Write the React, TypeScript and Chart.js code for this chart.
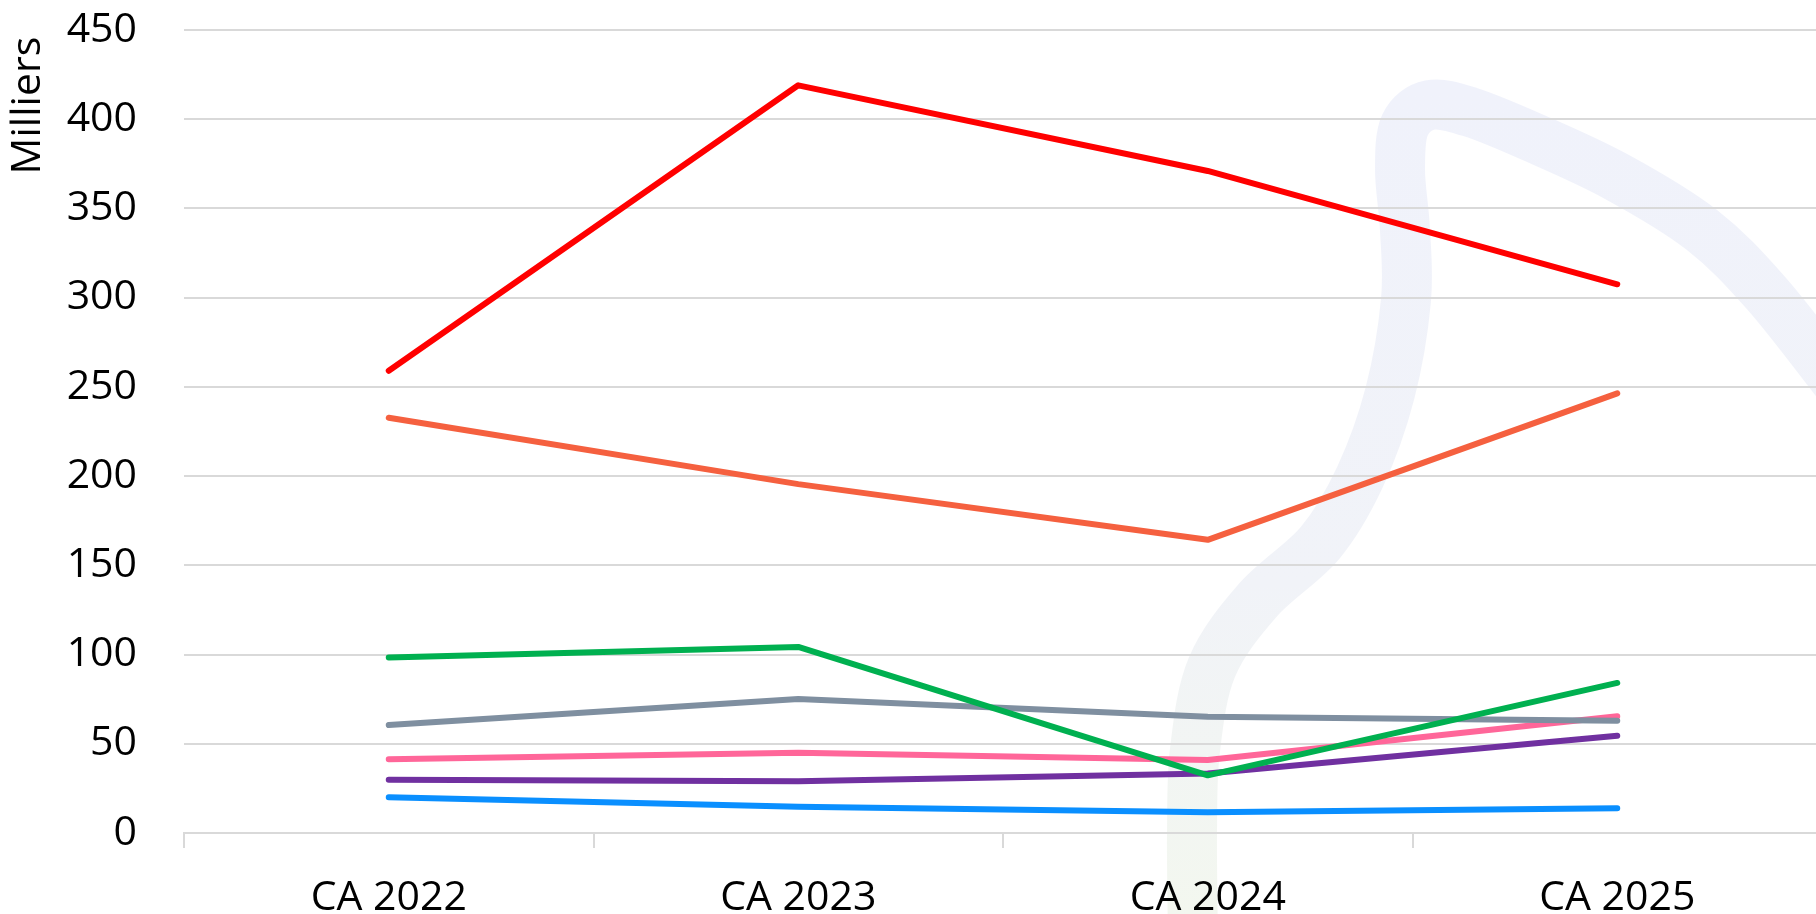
import React, { useEffect, useRef } from "react";
import { Chart, registerables } from "chart.js";

Chart.register(...registerables);

const categories = ["CA 2022", "CA 2023", "CA 2024", "CA 2025"];

const serieRouge = [259, 419, 371, 307.5];
const serieOrange = [232.7, 195.5, 164.3, 246.4];
const serieVerte = [98.4, 104.3, 32.3, 84.1];
const serieGrise = [60.5, 75.1, 65.2, 62.9];
const serieRose = [41.3, 45.0, 40.9, 65.4];
const serieViolette = [29.9, 29.0, 33.4, 54.5];
const serieBleue = [20.0, 14.7, 11.6, 13.8];

const yTicks = [0, 50, 100, 150, 200, 250, 300, 350, 400, 450];

const FONT = "'Open Sans', sans-serif";

// decorative background watermark stroke (canvas pixel coords)
const watermarkPath: [number, number][] = [
  [1193, 940], [1192, 833], [1195, 750], [1212, 667], [1258, 600], [1320, 543],
  [1360, 477], [1390, 393], [1406, 300], [1405, 230], [1400, 170], [1405, 125],
  [1430, 105], [1470, 112], [1532, 137], [1617, 177], [1702, 230], [1766, 293], [1835, 380],
];

const watermarkPlugin = {
  id: "watermark",
  beforeDraw(chart: any) {
    const ctx = chart.ctx as CanvasRenderingContext2D;
    ctx.save();
    const g = ctx.createLinearGradient(0, 90, 0, 914);
    g.addColorStop(0, "#F0F2FB");
    g.addColorStop(0.6, "#F1F3F8");
    g.addColorStop(1, "#F3F7EF");
    ctx.strokeStyle = g;
    ctx.lineWidth = 50;
    ctx.lineCap = "round";
    ctx.lineJoin = "round";
    ctx.beginPath();
    const p = watermarkPath;
    ctx.moveTo(p[0][0], p[0][1]);
    for (let i = 0; i < p.length - 1; i++) {
      const p0 = p[Math.max(0, i - 1)];
      const p1 = p[i];
      const p2 = p[i + 1];
      const p3 = p[Math.min(p.length - 1, i + 2)];
      const c1x = p1[0] + (p2[0] - p0[0]) / 6;
      const c1y = p1[1] + (p2[1] - p0[1]) / 6;
      const c2x = p2[0] - (p3[0] - p1[0]) / 6;
      const c2y = p2[1] - (p3[1] - p1[1]) / 6;
      ctx.bezierCurveTo(c1x, c1y, c2x, c2y, p2[0], p2[1]);
    }
    ctx.stroke();
    ctx.restore();
  },
};

function ds(label: string, data: number[], color: string) {
  return {
    label,
    data,
    borderColor: color,
    backgroundColor: color,
    borderWidth: 6,
    pointRadius: 0,
    pointHoverRadius: 0,
    tension: 0,
    borderCapStyle: "round" as const,
    borderJoinStyle: "round" as const,
    fill: false,
  };
}

const CANVAS_W = 1822;
const CANVAS_H = 914;

export default function App() {
  const ref = useRef<HTMLCanvasElement | null>(null);

  useEffect(() => {
    document.body.style.margin = "0";
    document.body.style.overflow = "hidden";
    const canvas = ref.current;
    if (!canvas) return;
    const chart = new Chart(canvas, {
      type: "line",
      data: {
        labels: categories,
        datasets: [
          ds("Série 1", serieRouge, "#FF0000"),
          ds("Série 2", serieOrange, "#F5603F"),
          ds("Série 3", serieVerte, "#00B050"),
          ds("Série 4", serieGrise, "#7F8FA0"),
          ds("Série 5", serieRose, "#FF6699"),
          ds("Série 6", serieViolette, "#7030A0"),
          ds("Série 7", serieBleue, "#0A8FFF"),
        ],
      },
      options: {
        responsive: false,
        animation: false,
        events: [],
        elements: { line: { borderWidth: 6 } },
        layout: { padding: { top: 30, right: 0, bottom: 0, left: 0 } },
        plugins: {
          legend: { display: false },
          tooltip: { enabled: false },
          title: { display: false },
        },
        scales: {
          x: {
            offset: true,
            afterFit: (scale: any) => {
              scale.height = 81;
              scale.paddingLeft = 0;
              scale.paddingRight = 0;
            },
            grid: {
              display: true,
              offset: true,
              drawOnChartArea: false,
              drawTicks: true,
              tickLength: 15,
              color: "#D9D9D9",
              lineWidth: 2,
            },
            border: { display: true, color: "#D9D9D9", width: 2 },
            ticks: {
              color: "#000000",
              font: { family: FONT, size: 41 },
              padding: 26,
              maxRotation: 0,
              autoSkip: false,
            },
          },
          y: {
            min: 0,
            max: 450,
            afterFit: (scale: any) => {
              scale.width = 184;
              scale.paddingTop = 0;
              scale.paddingBottom = 0;
            },
            afterBuildTicks: (scale: any) => {
              scale.ticks = yTicks.map((v) => ({ value: v }));
            },
            grid: {
              display: true,
              drawTicks: false,
              color: "#D9D9D9",
              lineWidth: 2,
            },
            border: { display: false },
            ticks: {
              color: "#000000",
              font: { family: FONT, size: 41 },
              padding: 47,
            },
            title: {
              display: true,
              text: "Milliers\u2009",
              align: "end",
              color: "#000000",
              font: { family: FONT, size: 41 },
              padding: { top: 4, bottom: 4 },
            },
          },
        },
      },
      plugins: [watermarkPlugin],
    });
    return () => chart.destroy();
  }, []);

  return (
    <div style={{ width: 1816, height: 914, position: "relative", overflow: "hidden" }}>
      <canvas ref={ref} width={CANVAS_W} height={CANVAS_H} style={{ display: "block", width: CANVAS_W, height: CANVAS_H }} />
    </div>
  );
}
